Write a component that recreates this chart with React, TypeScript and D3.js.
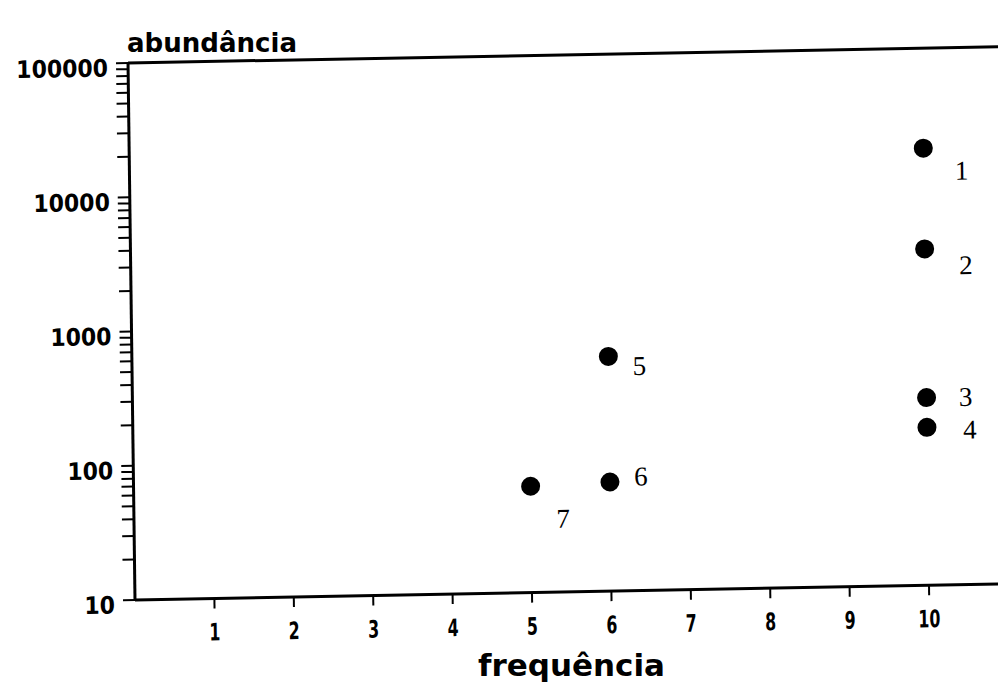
import React from "react";
import * as d3 from "d3";

// ---- data ----
const pointIds = ["1", "2", "3", "4", "5", "6", "7"];
const frequencia = [10, 10, 10, 10, 6, 6, 5];
const abundancia = [18000, 3200, 250, 150, 560, 65, 62];
const xTickValues = [1, 2, 3, 4, 5, 6, 7, 8, 9, 10];
const yTickLabels = ["10", "100", "1000", "10000", "100000"];

// label placement relative to each point (px)
const labelNudge: [number, number][] = [
  [38, 23], [41, 17], [39, 0], [43, 3], [31, 10], [31, -5], [32, 33],
];

const W = 998;
const H = 686;
const X0 = 135;
const Y0 = 600;
const YTOP = 63;
const UNIT = 79.4;

// slight skew of the scanned page
const skewB = -0.0186;
const skewC = 0.013;

const boldFont = "'DejaVu Sans', Verdana, sans-serif";
const serifFont = "'Liberation Serif', 'Times New Roman', serif";

export default function App() {
  const x = d3.scaleLinear().domain([0, 11]).range([X0, X0 + 11 * UNIT]);
  const y = d3.scaleLog().domain([10, 100000]).range([Y0, YTOP]);
  const yTicks = y.ticks();
  const matrix = `matrix(1, ${skewB}, ${skewC}, 1, ${-skewC * Y0}, ${-skewB * X0})`;

  return (
    <svg
      width={W}
      height={H}
      viewBox={`0 0 ${W} ${H}`}
      style={{ position: "absolute", left: 0, top: 0, background: "#fff" }}
    >
      <rect x={0} y={0} width={W} height={H} fill="#fff" />
      <g transform={matrix}>
        {/* axes frame */}
        <line x1={x(0)} x2={x(11)} y1={y(100000)} y2={y(100000)} stroke="#000" strokeWidth={3} />
        <line x1={x(0)} x2={x(11)} y1={y(10)} y2={y(10)} stroke="#000" strokeWidth={3} />
        <line x1={x(0)} x2={x(0)} y1={y(100000)} y2={y(10)} stroke="#000" strokeWidth={3} />

        {/* y ticks */}
        {yTicks.map((t, i) => (
          <line
            key={"yt" + i}
            x1={x(0) - 12}
            x2={x(0)}
            y1={y(t)}
            y2={y(t)}
            stroke="#000"
            strokeWidth={2}
          />
        ))}
        {yTickLabels.map((s) => (
          <text
            key={"yl" + s}
            x={x(0) - 20}
            y={y(+s) + 13}
            textAnchor="end"
            fontFamily={boldFont}
            fontWeight="bold"
            fontSize={24}
            textLength={15.3 * s.length}
            lengthAdjust="spacingAndGlyphs"
            fill="#000"
          >
            {s}
          </text>
        ))}

        {/* x ticks */}
        {xTickValues.map((t) => (
          <g key={"xt" + t}>
            <line x1={x(t)} x2={x(t)} y1={y(10)} y2={y(10) + 10} stroke="#000" strokeWidth={2} />
            <text
              x={x(t)}
              y={y(10) + 42}
              textAnchor="middle"
              fontFamily={boldFont}
              fontWeight="bold"
              fontSize={24}
              textLength={11 * String(t).length}
              lengthAdjust="spacingAndGlyphs"
              fill="#000"
            >
              {String(t)}
            </text>
          </g>
        ))}

        {/* points */}
        {pointIds.map((id, i) => (
          <g key={"p" + id}>
            <circle cx={x(frequencia[i])} cy={y(abundancia[i])} r={9.5} fill="#000" />
            <text
              x={x(frequencia[i]) + labelNudge[i][0]}
              y={y(abundancia[i]) + labelNudge[i][1]}
              textAnchor="middle"
              dominantBaseline="central"
              fontFamily={serifFont}
              fontSize={27}
              fill="#000"
            >
              {id}
            </text>
          </g>
        ))}
      </g>

      {/* axis titles */}
      <text
        x={127}
        y={52}
        fontFamily={boldFont}
        fontWeight="bold"
        fontSize={27}
        textLength={170}
        lengthAdjust="spacingAndGlyphs"
        fill="#000"
      >
        abundância
      </text>
      <text
        x={478}
        y={676}
        fontFamily={boldFont}
        fontWeight="bold"
        fontSize={30}
        textLength={187}
        lengthAdjust="spacingAndGlyphs"
        fill="#000"
      >
        frequência
      </text>
    </svg>
  );
}
